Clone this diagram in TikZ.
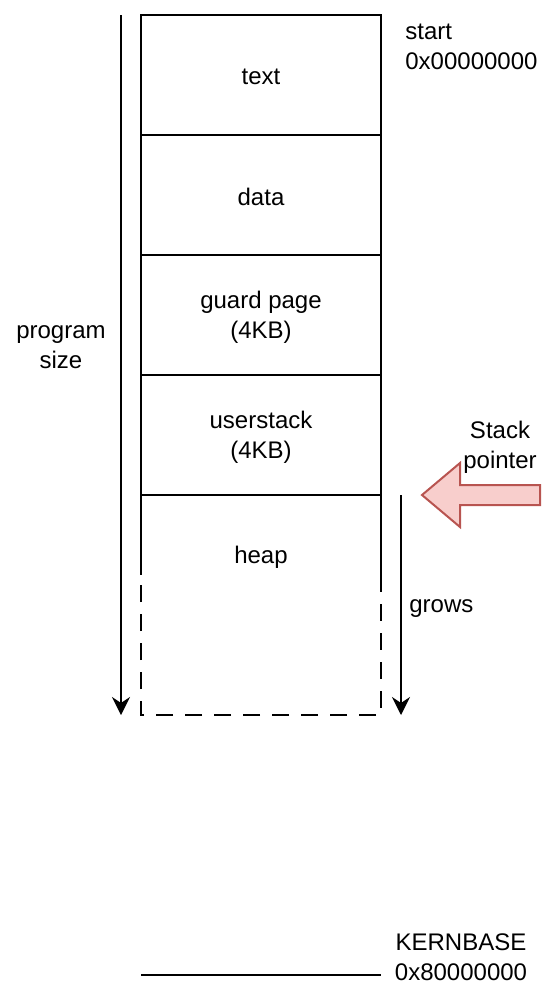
\documentclass[tikz,border=0pt]{standalone}
\usepackage{fontspec}
\setmainfont{Liberation Sans}
\usetikzlibrary{arrows.meta}
\definecolor{spfill}{HTML}{F8CECC}
\definecolor{spdraw}{HTML}{B85450}
\begin{document}
\begin{tikzpicture}[x=0.5pt,y=-0.5pt,
  every node/.style={font=\fontsize{12}{15}\selectfont, inner sep=0pt, align=center},
  seg/.style={draw, line width=1pt, minimum width=120pt, minimum height=60pt},
  lbl/.style={},
  ln/.style={line width=1pt},
  arr/.style={line width=1pt, -{Stealth[length=9pt,width=9pt,inset=3pt]}},
  dsh/.style={line width=1pt, dash pattern=on 8.5pt off 6pt}]
\useasboundingbox (0,0) rectangle (560,986);
\node[seg] (text) at (261,75) {};
\node[lbl] (textl) at (261,77) {text};
\node[seg] (data) at (261,195) {};
\node[lbl] (datal) at (261,197) {data};
\node[seg] (guard) at (261,315) {};
\node[lbl] (guardl) at (261,317) {guard page\\(4KB)};
\node[seg] (ustack) at (261,435) {};
\node[lbl] (ustackl) at (261,437) {userstack\\(4KB)};
\node (heap) at (261,557) {heap};
\coordinate (hl) at (141,495);
\coordinate (hr) at (381,495);
\coordinate (hlm) at (141,575);
\coordinate (hrm) at (381,575);
\coordinate (hlb) at (141,715);
\coordinate (hrb) at (381,715);
\draw[ln] (hl) -- (hlm);
\draw[ln] (hr) -- (hrm);
\draw[dsh] (hrm) -- (hrb) -- (hlb) -- (hlm);
% program size arrow
\coordinate (ps0) at (121,15);
\coordinate (ps1) at (121,715);
\draw[arr] (ps0) -- (ps1);
\node (psl) at (61,347) {program\\size};
% grows arrow
\coordinate (g0) at (401,495);
\coordinate (g1) at (401,715);
\draw[arr] (g0) -- (g1);
\node[anchor=base west] (grows) at (409,612) {grows};
% start label
\node[anchor=west, align=left] (start) at (405,47) {start\\0x00000000};
% stack pointer
\node (spl) at (500,447) {Stack\\pointer};
\draw[line width=1pt, draw=spdraw, fill=spfill]
  (422,495) -- (460,463) -- (460,485) -- (540,485) -- (540,505) -- (460,505) -- (460,527) -- cycle;
% kernbase
\coordinate (k0) at (141,975);
\coordinate (k1) at (381,975);
\draw[ln] (k0) -- (k1);
\node (kb) at (461,957) {KERNBASE\\0x80000000};
\end{tikzpicture}
\end{document}
